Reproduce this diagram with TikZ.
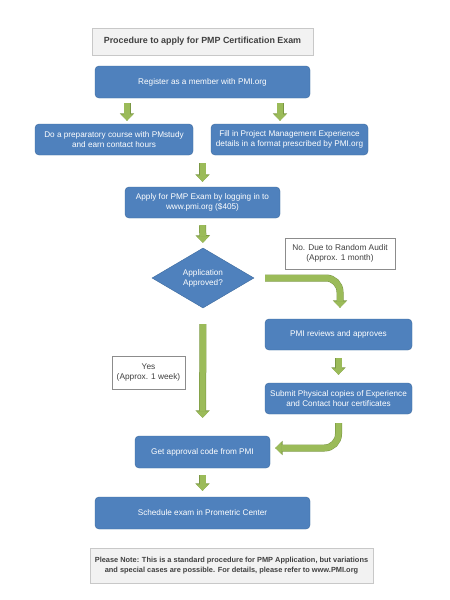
\documentclass[tikz,border=0pt]{standalone}
\usepackage{fontspec}
\setmainfont{Liberation Sans}
\usetikzlibrary{arrows.meta,shapes.geometric}
\definecolor{boxblue}{HTML}{4F81BD}
\definecolor{boxedge}{HTML}{3C6A9E}
\definecolor{arrgreen}{HTML}{9BBB59}
\definecolor{arredge}{HTML}{7A9743}
\definecolor{graybg}{HTML}{F2F2F2}
\definecolor{grayline}{HTML}{C8C8C8}
\definecolor{txtgray}{HTML}{404040}
\begin{document}
\begin{tikzpicture}[x=1pt,y=-1pt,n/.style={rectangle,rounded corners=4pt,draw=boxedge,fill=boxblue,text=white,align=center,font=\fontsize{8.2}{10}\selectfont,inner sep=0pt},d/.style={diamond,aspect=1.7,draw=boxedge,fill=boxblue,text=white,align=center,font=\fontsize{8.2}{10}\selectfont,inner sep=0pt,minimum width=102pt,minimum height=60pt},g/.style={rectangle,draw=grayline,fill=graybg,text=txtgray,align=center,inner sep=0pt},t/.style={rectangle,draw=black!45,fill=white,text=txtgray,align=center,font=\fontsize{8.3}{10}\selectfont,inner sep=0pt},a/.style={line width=6pt,draw=arrgreen,-{Triangle[width=12pt,length=6.5pt]},preaction={draw=arredge,line width=7pt,-{Triangle[width=14pt,length=7.5pt]}}}]

\useasboundingbox[fill=white] (0,0) rectangle (450,600);

\node[g, minimum width=221pt, minimum height=27pt, font=\bfseries\fontsize{8.9}{10}\selectfont] (title) at (202.5, 41.5) {Procedure to apply for PMP Certification Exam};
\node[n, minimum width=215pt, minimum height=32pt] (reg) at (202.5, 82) {Register as a member with PMI.org};
\node[n, minimum width=158pt, minimum height=31pt] (prep) at (114, 139.5) {Do a preparatory course with PMstudy\\and earn contact hours};
\node[n, minimum width=157pt, minimum height=31pt] (exper) at (289.5, 139.5) {Fill in Project Management Experience\\details in a format prescribed by PMI.org};
\node[n, minimum width=155pt, minimum height=31pt] (apply) at (202.5, 202.5) {Apply for PMP Exam by logging in to\\www.pmi.org (\$405)};
\node[d] (dec) at (203, 278) {Application\\Approved?};
\node[t, minimum width=110pt, minimum height=31pt] (nolabel) at (340, 253.5) {No. Due to Random Audit\\(Approx. 1 month)};
\node[n, minimum width=147pt, minimum height=31pt] (review) at (338.5, 334.5) {PMI reviews and approves};
\node[n, minimum width=147pt, minimum height=31pt] (submit) at (338.5, 398.5) {Submit Physical copies of Experience\\and Contact hour certificates};
\node[t, minimum width=73pt, minimum height=33pt] (yeslabel) at (148.5, 372.5) {Yes\\(Approx. 1 week)};
\node[n, minimum width=135pt, minimum height=32pt] (code) at (202.5, 452) {Get approval code from PMI};
\node[n, minimum width=215pt, minimum height=32pt] (sched) at (202.5, 513) {Schedule exam in Prometric Center};
\node[g, minimum width=283pt, minimum height=35pt, font=\bfseries\fontsize{7.4}{10}\selectfont] (note) at (231.5, 565.5) {Please Note: This is a standard procedure for PMP Application, but variations\\and special cases are possible. For details, please refer to www.PMI.org};

\coordinate (mid) at (prep.south -| apply.north);

\path[a, shorten <=5pt, shorten >=3pt] ([xshift=13pt]prep.north |- reg.south) -- ([xshift=13pt]prep.north);
\path[a, shorten <=5pt, shorten >=3pt] ([xshift=-9.5pt]exper.north |- reg.south) -- ([xshift=-9.5pt]exper.north);
\path[a, shorten <=8pt, shorten >=5pt] (mid) -- (apply.north);
\path[a, shorten <=7pt, shorten >=5pt] (apply.south) -- (dec.north);
\path[a, rounded corners=14pt, shorten <=11pt, shorten >=11pt] (dec.east) -| ([xshift=1.5pt]review.north);
\path[a, shorten <=16pt, shorten >=18pt] (dec.south) -- (code.north);
\path[a, shorten <=8pt, shorten >=8pt] (review.south) -- (submit.north);
\path[a, rounded corners=14pt, shorten <=9pt, shorten >=5pt] (submit.south) |- ([yshift=4pt]code.east);
\path[a, shorten <=7pt, shorten >=6pt] (code.south) -- (sched.north);

\end{tikzpicture}
\end{document}
